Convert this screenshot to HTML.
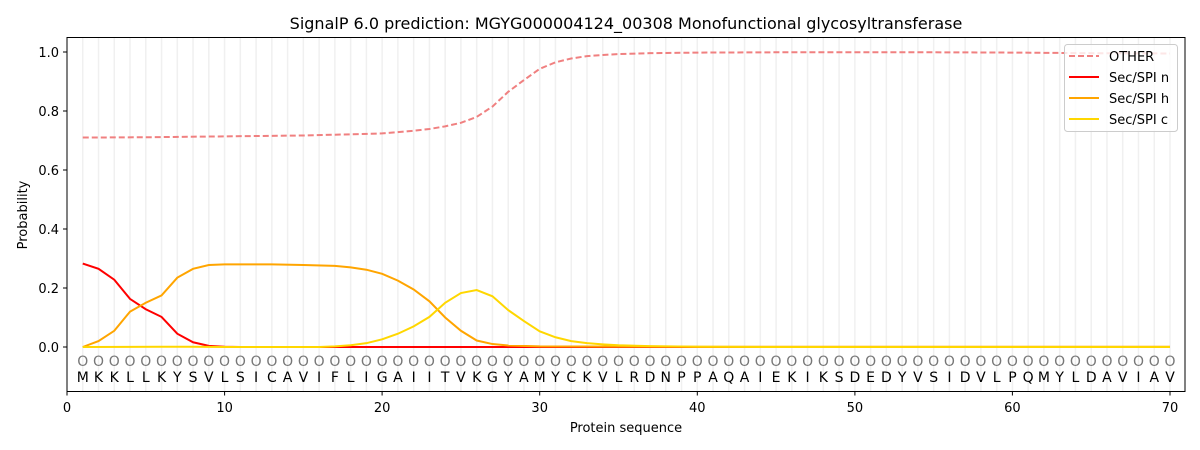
<!DOCTYPE html>
<html><head><meta charset="utf-8"><style>body{margin:0;background:#fff}svg{display:block;font-family:"DejaVu Sans","Liberation Sans",sans-serif}</style></head>
<body>
<svg width="1200" height="450" viewBox="0 0 1200 450">
<rect width="1200" height="450" fill="#fff"/>
<g transform="translate(67,347) scale(15.757,-295)">
<path vector-effect="non-scaling-stroke" stroke="#f0f0f0" stroke-width="1.5" fill="none" d="M1 -0.15V1.05M2 -0.15V1.05M3 -0.15V1.05M4 -0.15V1.05M5 -0.15V1.05M6 -0.15V1.05M7 -0.15V1.05M8 -0.15V1.05M9 -0.15V1.05M10 -0.15V1.05M11 -0.15V1.05M12 -0.15V1.05M13 -0.15V1.05M14 -0.15V1.05M15 -0.15V1.05M16 -0.15V1.05M17 -0.15V1.05M18 -0.15V1.05M19 -0.15V1.05M20 -0.15V1.05M21 -0.15V1.05M22 -0.15V1.05M23 -0.15V1.05M24 -0.15V1.05M25 -0.15V1.05M26 -0.15V1.05M27 -0.15V1.05M28 -0.15V1.05M29 -0.15V1.05M30 -0.15V1.05M31 -0.15V1.05M32 -0.15V1.05M33 -0.15V1.05M34 -0.15V1.05M35 -0.15V1.05M36 -0.15V1.05M37 -0.15V1.05M38 -0.15V1.05M39 -0.15V1.05M40 -0.15V1.05M41 -0.15V1.05M42 -0.15V1.05M43 -0.15V1.05M44 -0.15V1.05M45 -0.15V1.05M46 -0.15V1.05M47 -0.15V1.05M48 -0.15V1.05M49 -0.15V1.05M50 -0.15V1.05M51 -0.15V1.05M52 -0.15V1.05M53 -0.15V1.05M54 -0.15V1.05M55 -0.15V1.05M56 -0.15V1.05M57 -0.15V1.05M58 -0.15V1.05M59 -0.15V1.05M60 -0.15V1.05M61 -0.15V1.05M62 -0.15V1.05M63 -0.15V1.05M64 -0.15V1.05M65 -0.15V1.05M66 -0.15V1.05M67 -0.15V1.05M68 -0.15V1.05M69 -0.15V1.05M70 -0.15V1.05"/>
<polyline vector-effect="non-scaling-stroke" fill="none" stroke="#f08080" stroke-width="2" stroke-dasharray="6,3" points="1,0.71 5,0.711 10,0.714 15,0.717 18,0.721 20,0.724 22,0.733 23,0.739 24,0.748 25,0.76 26,0.78 27,0.815 28,0.865 29,0.905 30,0.943 31,0.965 32,0.978 33,0.986 34,0.99 35,0.993 37,0.996 40,0.998 45,0.999 55,0.999 60,0.998 65,0.996 70,0.995"/>
<polyline vector-effect="non-scaling-stroke" fill="none" stroke="#ff0000" stroke-width="2" points="1,0.283 2,0.265 3,0.228 4,0.163 5,0.128 6,0.102 7,0.045 8,0.016 9,0.004 10,0.001 11,0 70,0"/>
<polyline vector-effect="non-scaling-stroke" fill="none" stroke="#ffa500" stroke-width="2" points="1,0 2,0.02 3,0.055 4,0.12 5,0.15 6,0.175 7,0.235 8,0.265 9,0.278 10,0.28 13,0.28 15,0.278 17,0.275 18,0.27 19,0.262 20,0.248 21,0.225 22,0.195 23,0.155 24,0.1 25,0.055 26,0.022 27,0.01 28,0.005 30,0.002 40,0.001 70,0.001"/>
<polyline vector-effect="non-scaling-stroke" fill="none" stroke="#ffd700" stroke-width="2" points="1,0 6,0.001 8,0.001 10,0 16,0 17,0.002 18,0.006 19,0.013 20,0.026 21,0.045 22,0.07 23,0.102 24,0.15 25,0.183 26,0.193 27,0.172 28,0.125 29,0.088 30,0.053 31,0.033 32,0.02 33,0.013 34,0.009 35,0.006 37,0.003 40,0.001 45,0 70,0"/>
</g>
<g font-size="14" text-anchor="middle">
<text fill="#777" y="366" x="82.76 98.51 114.27 130.03 145.79 161.54 177.3 193.06 208.81 224.57 240.33 256.08 271.84 287.6 303.36 319.11 334.87 350.63 366.38 382.14 397.9 413.65 429.41 445.17 460.93 476.68 492.44 508.2 523.95 539.71 555.47 571.22 586.98 602.74 618.5 634.25 650.01 665.77 681.52 697.28 713.04 728.79 744.55 760.31 776.07 791.82 807.58 823.34 839.09 854.85 870.61 886.36 902.12 917.88 933.64 949.39 965.15 980.91 996.66 1012.42 1028.18 1043.93 1059.69 1075.45 1091.21 1106.96 1122.72 1138.48 1154.23 1169.99">OOOOOOOOOOOOOOOOOOOOOOOOOOOOOOOOOOOOOOOOOOOOOOOOOOOOOOOOOOOOOOOOOOOOOO</text>
<text fill="#000" y="382" x="82.76 98.51 114.27 130.03 145.79 161.54 177.3 193.06 208.81 224.57 240.33 256.08 271.84 287.6 303.36 319.11 334.87 350.63 366.38 382.14 397.9 413.65 429.41 445.17 460.93 476.68 492.44 508.2 523.95 539.71 555.47 571.22 586.98 602.74 618.5 634.25 650.01 665.77 681.52 697.28 713.04 728.79 744.55 760.31 776.07 791.82 807.58 823.34 839.09 854.85 870.61 886.36 902.12 917.88 933.64 949.39 965.15 980.91 996.66 1012.42 1028.18 1043.93 1059.69 1075.45 1091.21 1106.96 1122.72 1138.48 1154.23 1169.99">MKKLLKYSVLSICAVIFLIGAIITVKGYAMYCKVLRDNPPAQAIEKIKSDEDYVSIDVLPQMYLDAVIAV</text>
</g>
<rect x="67" y="37.5" width="1118" height="354" fill="none" stroke="#000" stroke-width="1"/>
<g stroke="#000" stroke-width="1">
<path d="M67 391.5v4M224.6 391.5v4M382.1 391.5v4M539.7 391.5v4M697.3 391.5v4M854.9 391.5v4M1012.4 391.5v4M1170 391.5v4"/>
<path d="M67 347h-4M67 288h-4M67 229h-4M67 170h-4M67 111h-4M67 52h-4"/>
</g>
<g font-size="13" text-anchor="middle">
<text x="67" y="412">0</text><text x="224.6" y="412">10</text><text x="382.1" y="412">20</text><text x="539.7" y="412">30</text><text x="697.3" y="412">40</text><text x="854.9" y="412">50</text><text x="1012.4" y="412">60</text><text x="1170" y="412">70</text>
</g>
<g font-size="13" text-anchor="end">
<text x="59" y="352">0.0</text><text x="59" y="293">0.2</text><text x="59" y="234">0.4</text><text x="59" y="175">0.6</text><text x="59" y="116">0.8</text><text x="59" y="57">1.0</text>
</g>
<text x="626" y="432" font-size="13" text-anchor="middle">Protein sequence</text>
<text transform="translate(27,215) rotate(-90)" font-size="13" text-anchor="middle">Probability</text>
<text x="626" y="29" font-size="16" text-anchor="middle">SignalP 6.0 prediction: MGYG000004124_00308 Monofunctional glycosyltransferase</text>
<rect x="1064.5" y="44.5" width="113" height="87" rx="3" fill="#fff" fill-opacity="0.8" stroke="#ccc"/>
<g stroke-width="2">
<line x1="1069" y1="56" x2="1099" y2="56" stroke="#f08080" stroke-dasharray="6,3"/>
<line x1="1069" y1="77" x2="1099" y2="77" stroke="#ff0000"/>
<line x1="1069" y1="98" x2="1099" y2="98" stroke="#ffa500"/>
<line x1="1069" y1="119" x2="1099" y2="119" stroke="#ffd700"/>
</g>
<g font-size="13">
<text x="1109" y="61">OTHER</text><text x="1109" y="82">Sec/SPI n</text><text x="1109" y="103">Sec/SPI h</text><text x="1109" y="124">Sec/SPI c</text>
</g>
</svg>
</body></html>
